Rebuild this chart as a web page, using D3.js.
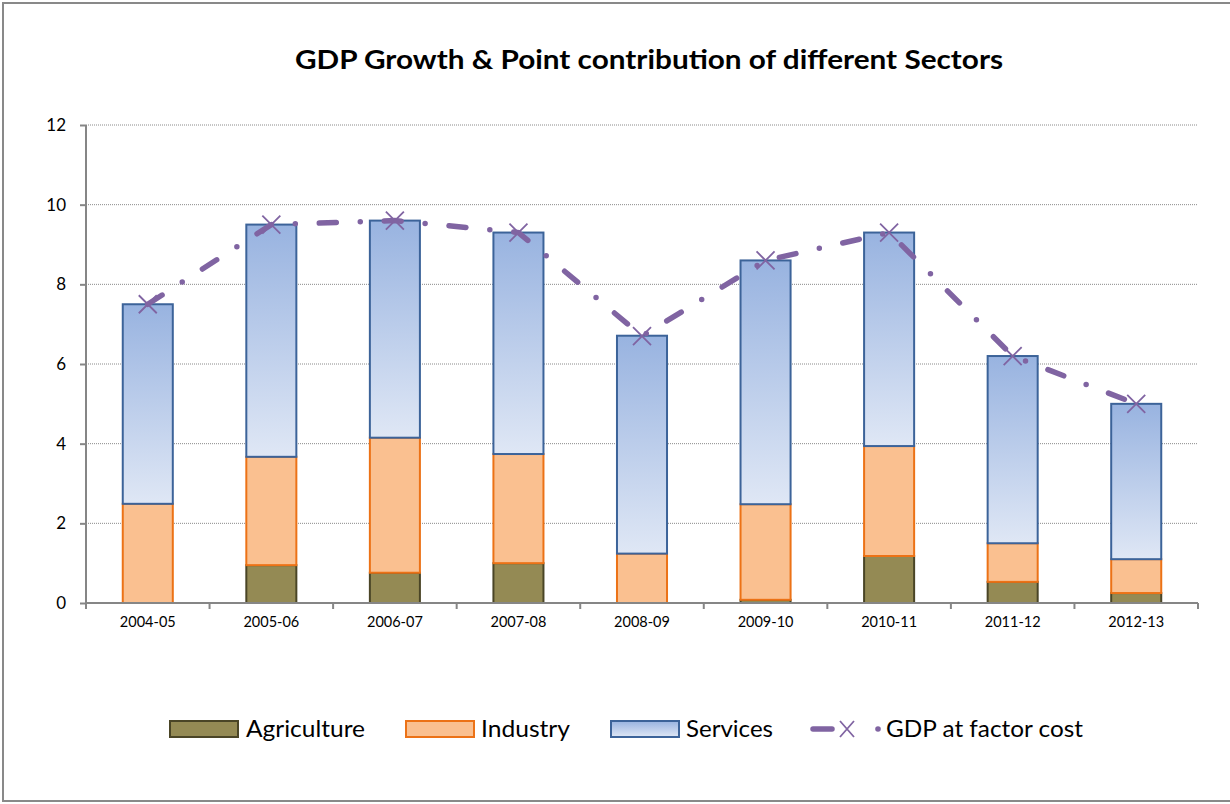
<!DOCTYPE html>
<html>
<head>
<meta charset="utf-8">
<script src="https://cdn.jsdelivr.net/npm/d3@7"></script>
<style>
  html, body { margin: 0; padding: 0; background: #fff; }
  svg { display: block; font-family: Lato, "Open Sans", sans-serif; }
</style>
</head>
<body>
<svg id="chart" width="1230" height="804"></svg>
<script>
const years = ["2004-05","2005-06","2006-07","2007-08","2008-09","2009-10","2010-11","2011-12","2012-13"];
const agriculture = [0.0, 0.95, 0.76, 1.0, 0.0, 0.08, 1.18, 0.53, 0.25];
const industry    = [2.49, 2.72, 3.39, 2.74, 1.24, 2.40, 2.76, 0.97, 0.85];
const services    = [5.01, 5.83, 5.45, 5.56, 5.47, 6.12, 5.36, 4.70, 3.90];
const gdp         = [7.5, 9.5, 9.6, 9.3, 6.7, 8.6, 9.3, 6.2, 5.0];
const yTicks = [0, 2, 4, 6, 8, 10, 12];
const seriesNames = ["Agriculture", "Industry", "Services"];
const lineName = "GDP at factor cost";
const titleText = "GDP Growth & Point contribution of different Sectors";

const svg = d3.select("#chart");
const defs = svg.append("defs");
const grad = defs.append("linearGradient").attr("id", "svcGrad")
  .attr("x1", 0).attr("y1", 0).attr("x2", 0).attr("y2", 1);
grad.append("stop").attr("offset", "0%").attr("stop-color", "#98B3E0");
grad.append("stop").attr("offset", "100%").attr("stop-color", "#DFE7F5");

// outer border
svg.append("rect").attr("x", 3).attr("y", 3).attr("width", 1240).attr("height", 798)
  .attr("fill", "none").attr("stroke", "#898989").attr("stroke-width", 2);

const pLeft = 86, pRight = 1198, pTop = 125, pBottom = 603;
const x = d3.scaleBand().domain(years).range([pLeft, pRight]).paddingInner(0.595).paddingOuter(0.2975);
const y = d3.scaleLinear().domain([0, 12]).range([pBottom, pTop]);

// title
svg.append("text").attr("x", 649).attr("y", 69).attr("text-anchor", "middle")
  .attr("font-size", 26).attr("font-weight", "bold").attr("fill", "#000")
  .attr("textLength", 708).attr("lengthAdjust", "spacingAndGlyphs").text(titleText);

// gridlines
svg.append("g").selectAll("line").data(yTicks.filter(d => d > 0)).join("line")
  .attr("x1", pLeft).attr("x2", pRight).attr("y1", d => y(d)).attr("y2", d => y(d))
  .attr("stroke", "#8a8a8a").attr("stroke-width", 1).attr("stroke-dasharray", "1,1");

// stacked bars
const stackData = years.map((yr, i) => ({year: yr, Agriculture: agriculture[i], Industry: industry[i], Services: services[i]}));
const stacked = d3.stack().keys(seriesNames)(stackData);
const fills = {Agriculture: "#948A54", Industry: "#FAC090", Services: "url(#svcGrad)"};
const strokes = {Agriculture: "#4A4526", Industry: "#EC7216", Services: "#3C6399"};
stacked.forEach(layer => {
  svg.append("g").selectAll("rect").data(layer).join("rect")
    .attr("x", d => x(d.data.year))
    .attr("width", x.bandwidth())
    .attr("y", d => y(d[1]))
    .attr("height", d => Math.max(0, y(d[0]) - y(d[1])))
    .attr("fill", fills[layer.key])
    .attr("stroke", d => (d[1] - d[0]) > 0.02 ? strokes[layer.key] : "none")
    .attr("stroke-width", 2);
});

// axes
const yAxis = svg.append("g").attr("transform", `translate(${pLeft},0)`)
  .call(d3.axisLeft(y).tickValues(yTicks).tickSize(6).tickPadding(14).tickFormat(d3.format("d")));
yAxis.select(".domain").attr("stroke", "#868686").attr("stroke-width", 2).attr("d", `M0,${pTop}V${pBottom}`);
yAxis.selectAll(".tick line").attr("stroke", "#868686").attr("stroke-width", 2);
yAxis.selectAll(".tick text").attr("font-size", 17).attr("fill", "#000").attr("font-family", "Lato, sans-serif");

const xAxis = svg.append("g").attr("transform", `translate(0,${pBottom})`)
  .call(d3.axisBottom(x).tickSize(0).tickPadding(14));
xAxis.select(".domain").attr("stroke", "#868686").attr("stroke-width", 2).attr("d", `M${pLeft},0H${pRight}`);
xAxis.selectAll(".tick text").attr("font-size", 14.5).attr("fill", "#000").attr("font-family", "Lato, sans-serif");
// category boundary ticks
const bounds = years.map(d => x(d) - (x.step() - x.bandwidth()) / 2).concat([pRight]);
svg.append("g").selectAll("line").data(bounds).join("line")
  .attr("x1", d => d).attr("x2", d => d).attr("y1", pBottom).attr("y2", pBottom + 6)
  .attr("stroke", "#868686").attr("stroke-width", 2);

// GDP line
const cx = d => x(d) + x.bandwidth() / 2;
const lineColor = "#8064A2";
const line = d3.line().x((d, i) => cx(years[i])).y(d => y(d));
svg.append("path").datum(gdp).attr("d", line)
  .attr("fill", "none").attr("stroke", lineColor).attr("stroke-width", 5.5)
  .attr("stroke-linecap", "round").attr("stroke-dasharray", "17,24,0,24");
const xs = 9;
svg.append("g").selectAll("path").data(gdp).join("path")
  .attr("d", (d, i) => {
    const px = cx(years[i]), py = y(d);
    return `M${px - xs},${py - xs}L${px + xs},${py + xs}M${px - xs},${py + xs}L${px + xs},${py - xs}`;
  })
  .attr("stroke", lineColor).attr("stroke-width", 1.8).attr("fill", "none");

// legend
const legY = 729;
const leg = svg.append("g");
const legItems = [
  {name: seriesNames[0], sx: 170, tx: 246, tw: 119},
  {name: seriesNames[1], sx: 406, tx: 481, tw: 89},
  {name: seriesNames[2], sx: 611, tx: 686, tw: 87}
];
legItems.forEach(it => {
  leg.append("rect").attr("x", it.sx).attr("y", legY - 8).attr("width", 68).attr("height", 16)
    .attr("fill", fills[it.name]).attr("stroke", strokes[it.name]).attr("stroke-width", 2);
  leg.append("text").attr("x", it.tx).attr("y", legY + 8).attr("font-size", 22.5).attr("fill", "#000")
    .attr("textLength", it.tw).attr("lengthAdjust", "spacingAndGlyphs").text(it.name);
});
leg.append("line").attr("x1", 813).attr("x2", 832).attr("y1", legY).attr("y2", legY)
  .attr("stroke", lineColor).attr("stroke-width", 5.5).attr("stroke-linecap", "round");
leg.append("path").attr("d", `M${847-7},${legY-8}L${847+7},${legY+8}M${847-7},${legY+8}L${847+7},${legY-8}`)
  .attr("stroke", lineColor).attr("stroke-width", 1.8).attr("fill", "none");
leg.append("circle").attr("cx", 878).attr("cy", legY).attr("r", 2.8).attr("fill", lineColor);
leg.append("text").attr("x", 886).attr("y", legY + 8).attr("font-size", 22.5).attr("fill", "#000")
  .attr("textLength", 197).attr("lengthAdjust", "spacingAndGlyphs").text(lineName);
</script>
</body>
</html>
